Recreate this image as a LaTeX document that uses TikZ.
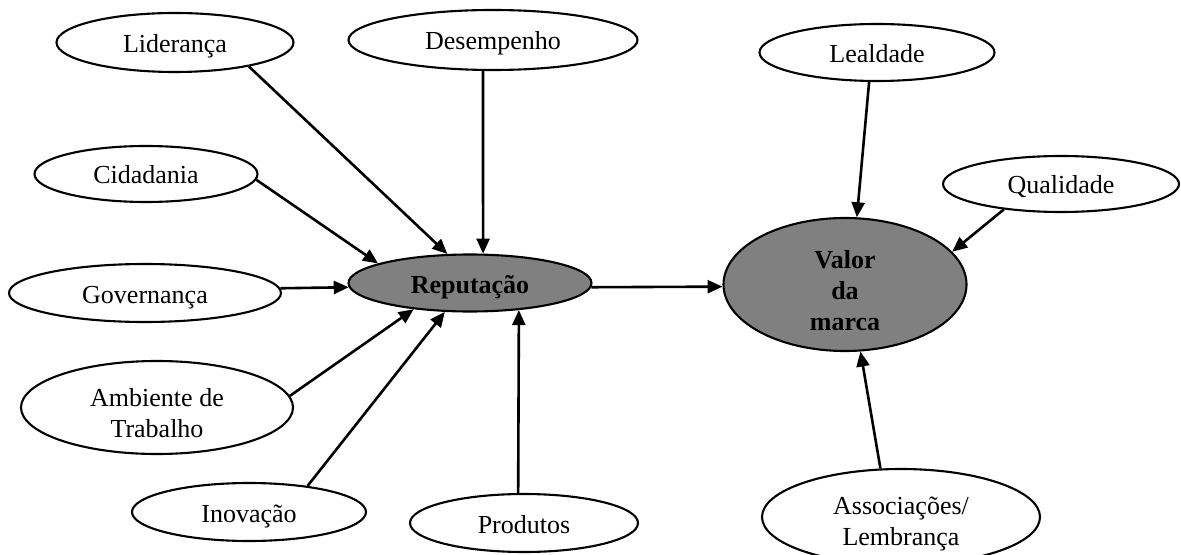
\documentclass[tikz,border=0pt]{standalone}
\usepackage{fontspec}
\setmainfont{Liberation Serif}
\usetikzlibrary{shapes.geometric,arrows.meta}
\definecolor{fillgray}{RGB}{128,128,128}
\begin{document}
\begin{tikzpicture}[x=0.5pt,y=-0.5pt,
  ell/.style={ellipse,draw,line width=1.05pt,inner sep=0pt,align=center,
    text height=10pt,text depth=0pt,font=\fontsize{13}{15.5}\selectfont},
  dark/.style={ell,fill=fillgray,font=\fontsize{13}{15.5}\selectfont\bfseries},
  arr/.style={line width=1.3pt,-{Triangle[length=7.5pt,width=6.5pt]}}]
\useasboundingbox (0,0) rectangle (1181,555);
\clip (0,0) rectangle (1181,555);
% nodes
\node[ell,minimum width=118.5pt,minimum height=29.5pt] (lid) at (175,42.5) {Liderança};
\node[ell,minimum width=144.5pt,minimum height=30pt] (des) at (493,40) {Desempenho};
\node[ell,minimum width=111.5pt,minimum height=28pt] (cid) at (146,174) {Cidadania};
\node[ell,minimum width=136pt,minimum height=29pt] (gov) at (145,293) {Governança};
\node[dark,minimum width=121.5pt,minimum height=28.5pt] (rep) at (470,283) {Reputação};
\node[ell,minimum width=136pt,minimum height=46.5pt,text height=29.5pt,text depth=0pt] (amb) at (157,407.5) {Ambiente de\\Trabalho};
\node[ell,minimum width=117pt,minimum height=29pt] (ino) at (249,512) {Inovação};
\node[ell,minimum width=114pt,minimum height=29pt] (prod) at (524,523) {Produtos};
\node[dark,minimum width=121.5pt,minimum height=66.5pt,text height=45.5pt,text depth=0pt] (val) at (845,284.5) {Valor\\da\\marca};
\node[ell,minimum width=117.5pt,minimum height=28.5pt] (leal) at (877,52.5) {Lealdade};
\node[ell,minimum width=118pt,minimum height=28pt] (qual) at (1061,184) {Qualidade};
\node[ell,minimum width=139pt,minimum height=48pt,text height=30pt,text depth=2pt] (assoc) at (901,517) {Associações/\\Lembrança};
% connectors
\draw[arr] (lid.-18) -- (rep.128);
\draw[arr] (des.-108) -- (rep.66);
\draw[arr] (cid.-3) -- (rep.168);
\draw[arr] (gov.2) -- (rep.182);
\draw[arr] (amb.5) -- (rep.205);
\draw[arr] (ino.24) -- (rep.-131);
\draw[arr] (prod.101) -- (rep.-29);
\draw[arr] (rep.-2) -- (val.181);
\draw[arr] (leal.-105) -- (val.80);
\draw[arr] (qual.-156) -- (val.17);
\draw[arr] (assoc.113) -- (val.-77);
\end{tikzpicture}
\end{document}
